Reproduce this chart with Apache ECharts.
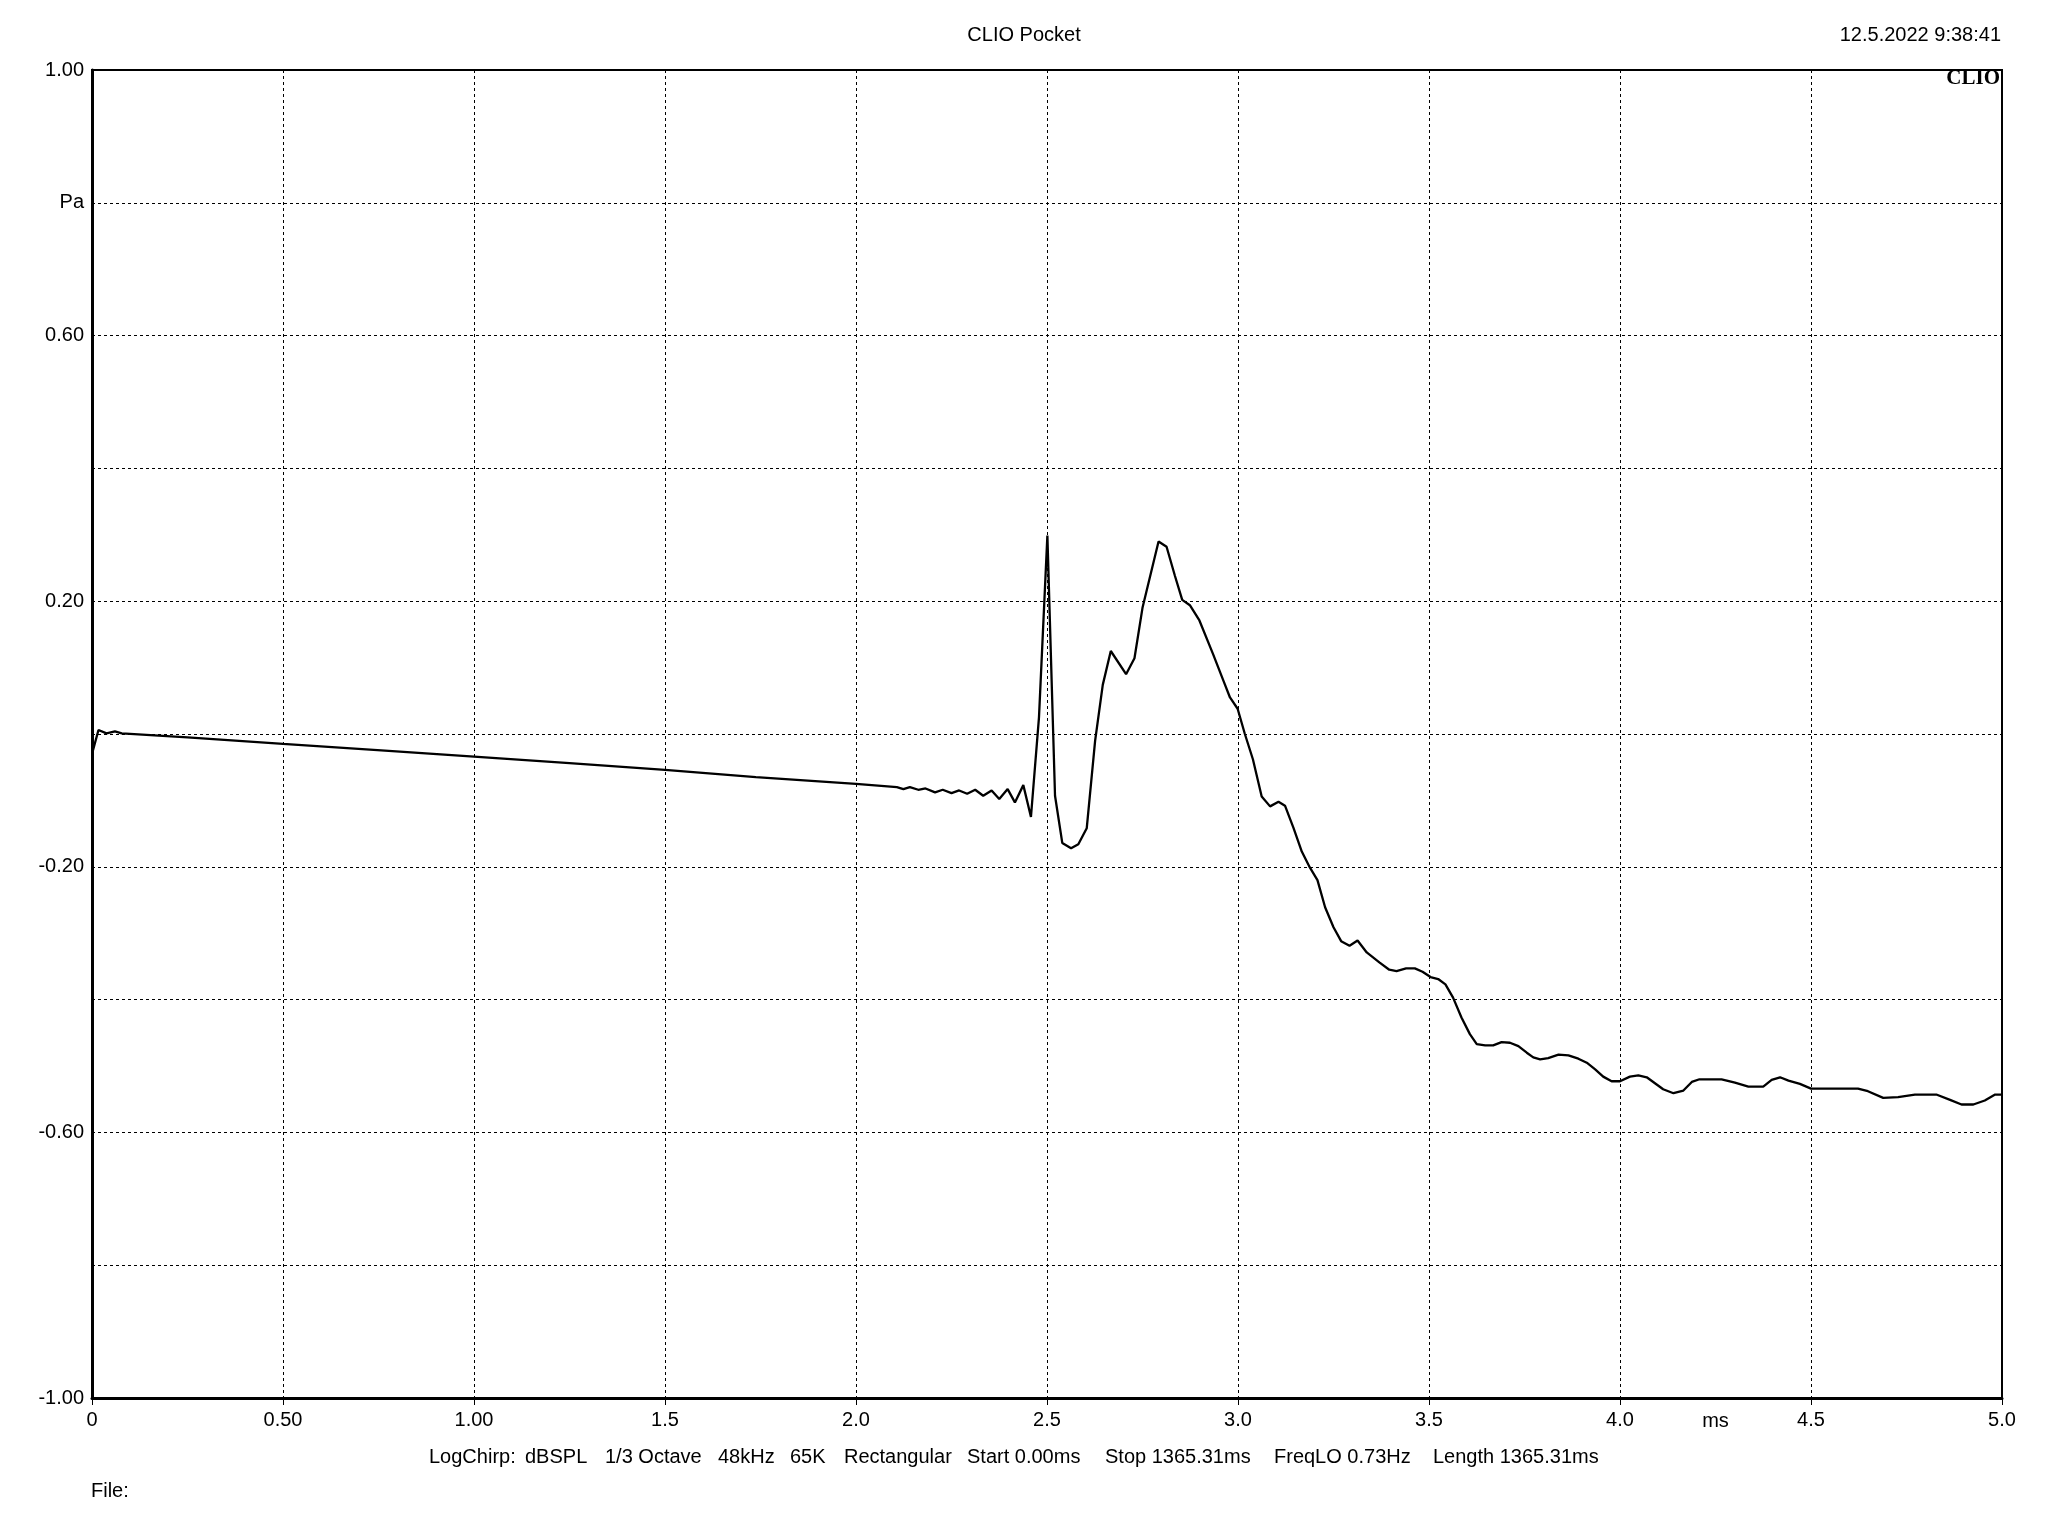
<!DOCTYPE html>
<html>
<head>
<meta charset="utf-8">
<script src="https://cdn.jsdelivr.net/npm/echarts@6/dist/echarts.min.js"></script>
<style>
html,body{margin:0;padding:0;background:#fff;}
#chart{width:2048px;height:1536px;}
</style>
</head>
<body>
<div id="chart"></div>
<script>
// ---- data ----
const timeMs = [0,0.017,0.038,0.060,0.078,0.25,0.5,0.767,1.0,1.25,1.5,1.738,2.0,
2.107,2.124,2.141,2.163,2.182,2.207,2.227,2.250,2.270,2.291,2.312,2.333,2.355,2.375,2.397,2.416,2.438,2.458,
2.479,2.501,2.521,2.540,2.563,2.582,2.604,2.626,2.646,2.667,2.707,2.729,2.750,2.792,2.813,2.835,2.854,2.874,2.899,
2.935,2.962,2.979,2.999,3.018,3.039,3.062,3.084,3.106,3.123,3.145,3.167,3.188,3.208,3.228,3.250,3.270,3.292,3.313,
3.337,3.370,3.396,3.415,3.440,3.463,3.483,3.504,3.524,3.543,3.563,3.585,3.607,3.625,3.647,3.668,3.690,3.712,3.734,
3.756,3.773,3.791,3.812,3.839,3.865,3.891,3.913,3.935,3.956,3.978,4.000,4.026,4.048,4.070,4.113,4.140,4.166,4.188,
4.208,4.266,4.301,4.336,4.375,4.397,4.419,4.441,4.471,4.500,4.541,4.623,4.649,4.689,4.728,4.772,4.828,4.864,4.894,
4.925,4.955,4.982,5.0];
const pressurePa = [-0.030,0.006,0.001,0.004,0.001,-0.005,-0.015,-0.025,-0.034,-0.044,-0.054,-0.065,-0.075,
-0.080,-0.083,-0.080,-0.084,-0.082,-0.088,-0.084,-0.089,-0.085,-0.090,-0.084,-0.093,-0.085,-0.098,-0.083,-0.103,-0.077,-0.125,
0.025,0.299,-0.093,-0.164,-0.172,-0.166,-0.142,-0.010,0.074,0.125,0.090,0.114,0.190,0.290,0.282,0.238,0.202,0.194,0.171,
0.120,0.080,0.055,0.038,0.000,-0.038,-0.094,-0.109,-0.102,-0.108,-0.141,-0.177,-0.201,-0.220,-0.261,-0.291,-0.312,-0.319,-0.311,
-0.329,-0.344,-0.355,-0.357,-0.353,-0.353,-0.358,-0.366,-0.369,-0.377,-0.397,-0.427,-0.452,-0.467,-0.469,-0.469,-0.464,-0.465,-0.470,
-0.480,-0.487,-0.490,-0.488,-0.483,-0.484,-0.489,-0.495,-0.505,-0.516,-0.523,-0.523,-0.516,-0.514,-0.517,-0.535,-0.541,-0.537,-0.524,
-0.520,-0.520,-0.525,-0.531,-0.531,-0.521,-0.517,-0.522,-0.527,-0.534,-0.534,-0.534,-0.538,-0.548,-0.547,-0.543,-0.543,-0.551,-0.558,
-0.558,-0.552,-0.543,-0.543];
const xTickLabels = ["0","0.50","1.00","1.5","2.0","2.5","3.0","3.5","4.0","4.5","5.0"];
const yTickLabels = ["-1.00","","-0.60","","-0.20","","0.20","","0.60","Pa","1.00"];
const xUnitLabel = "ms";
const xUnitAt = 4.25;
const titleText = "CLIO Pocket";
const dateText = "12.5.2022 9:38:41";
const logoText = "CLIO";
const infoFields = ["LogChirp:","dBSPL","1/3 Octave","48kHz","65K","Rectangular","Start 0.00ms","Stop 1365.31ms","FreqLO 0.73Hz","Length 1365.31ms"];
const fileText = "File:";

// ---- layout ----
const infoLeft = [429,525,605,718,790,844,967,1105,1274,1433];
const FONT = "'Liberation Sans', Arial, sans-serif";

const chart = echarts.init(document.getElementById('chart'), null, {renderer:'canvas'});
const seriesData = timeMs.map((t,i)=>[t,pressurePa[i]]);

const graphics = [
  {type:'text', id:'title', x:1024, y:35, style:{text:titleText, font:'20px '+FONT, fill:'#000', textAlign:'center', textVerticalAlign:'middle'}},
  {type:'text', id:'date', x:2001, y:35, style:{text:dateText, font:'20px '+FONT, fill:'#000', textAlign:'right', textVerticalAlign:'middle'}},
  {type:'text', id:'logo', x:2000, y:79, z:10, style:{text:logoText, font:"bold 21px 'Liberation Serif', 'Times New Roman', serif", fill:'#000', textAlign:'right', textVerticalAlign:'middle'}},
  {type:'text', id:'file', x:91, y:1491, style:{text:fileText, font:'20px '+FONT, fill:'#000', textAlign:'left', textVerticalAlign:'middle'}}
];
infoFields.forEach((f,i)=>{
  graphics.push({type:'text', id:'info'+i, x:infoLeft[i], y:1457, style:{text:f, font:'20px '+FONT, fill:'#000', textAlign:'left', textVerticalAlign:'middle'}});
});

chart.setOption({
  animation:false,
  backgroundColor:'#fff',
  grid:{left:92, right:46, top:70, bottom:138, show:true, borderColor:'#000', borderWidth:2, backgroundColor:'transparent'},
  xAxis:{
    type:'value', min:0, max:5, interval:0.5,
    axisLine:{show:true, onZero:false, lineStyle:{color:'#000', width:3}},
    axisTick:{show:true, length:7, lineStyle:{color:'#000', width:1}},
    axisLabel:{show:true, margin:12, color:'#000', fontSize:20, fontFamily:FONT,
      formatter:(v)=>{const i=Math.round(v/0.5); return xTickLabels[i]!==undefined?xTickLabels[i]:'';}},
    splitLine:{show:true, lineStyle:{color:'#000', width:1, type:[3,3]}}
  },
  yAxis:{
    type:'value', min:-1, max:1, interval:0.2,
    axisLine:{show:true, onZero:false, lineStyle:{color:'#000', width:3}},
    axisTick:{show:false},
    axisLabel:{show:true, margin:8, color:'#000', fontSize:20, fontFamily:FONT,
      formatter:(v)=>{const i=Math.round((v+1)/0.2); return yTickLabels[i]!==undefined?yTickLabels[i]:'';}},
    splitLine:{show:true, lineStyle:{color:'#000', width:1, type:[3,3]}}
  },
  graphic:graphics,
  series:[{
    type:'line', data:seriesData, showSymbol:false, symbol:'none', smooth:false,
    lineStyle:{color:'#000', width:2.3}, z:5, clip:true
  }]
});

const p = chart.convertToPixel({gridIndex:0}, [xUnitAt, -1]);
chart.setOption({graphic:[{type:'text', id:'xunit', x:p[0], y:p[1]+23, style:{text:xUnitLabel, font:'20px '+FONT, fill:'#000', textAlign:'center', textVerticalAlign:'middle'}}]});
</script>
</body>
</html>
